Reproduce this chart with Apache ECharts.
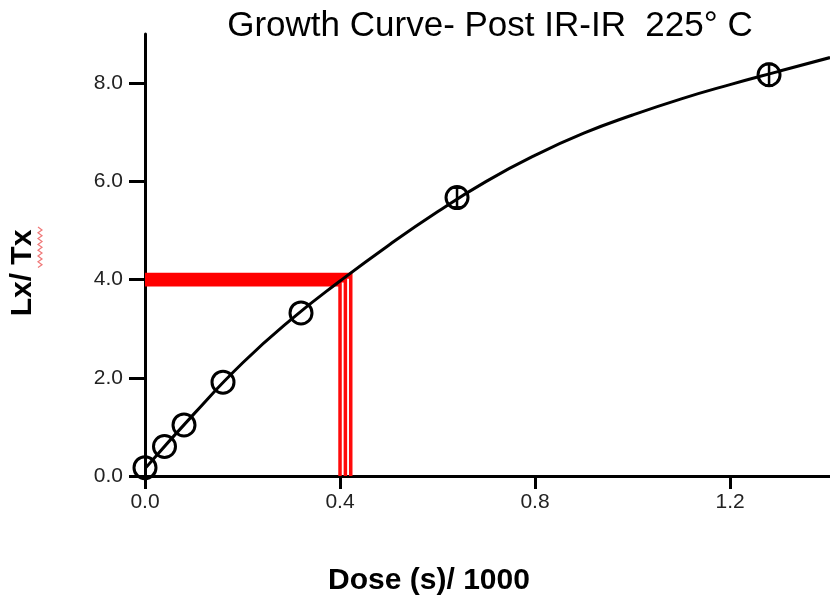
<!DOCTYPE html>
<html>
<head>
<meta charset="utf-8">
<script src="https://cdn.jsdelivr.net/npm/echarts@6/dist/echarts.min.js"></script>
<style>html,body{margin:0;padding:0;background:#fff}#c{width:830px;height:607px}</style>
</head>
<body>
<div id="c"></div>
<script>
// Measured data points (dose /1000 s, Lx/Tx)
var doses = [0, 0.04, 0.08, 0.16, 0.32, 0.64, 1.28];
var lxtx = [0.17, 0.60, 1.04, 1.91, 3.32, 5.67, 8.17];
var lxtxErr = [0, 0, 0, 0, 0, 0.20, 0.22];
// Fitted growth curve
var curveX = [0, 0.1, 0.2, 0.3, 0.4, 0.5, 0.6, 0.7, 0.8, 0.9, 1.0, 1.1, 1.2, 1.3, 1.405];
var curveY = [0.15, 1.26, 2.30, 3.19, 3.97, 4.70, 5.38, 6.00, 6.53, 6.98, 7.35, 7.68, 7.97, 8.24, 8.52];
// Equivalent-dose projection (lower, central, upper)
var deDose = [0.400, 0.411, 0.422];
var deLx = [3.92, 4.00, 4.08];
// Tick labels
var xTicks = [0, 0.4, 0.8, 1.2];
var yTicks = [0, 2, 4, 6, 8];

var chart = echarts.init(document.getElementById('c'), null, {renderer: 'canvas'});
var series = [];
for (var i = 0; i < deDose.length; i++) {
  series.push({
    type: 'line', data: [[0, deLx[i]], [deDose[i], deLx[i]]], symbol: 'none', z: 1, silent: true,
    lineStyle: {color: '#ff0000', width: 6}, clip: false
  });
  series.push({
    type: 'line', data: [[deDose[i], deLx[i] + 0.06], [deDose[i], 0]], symbol: 'none', z: 1, silent: true,
    lineStyle: {color: '#ff0a0a', width: 3.5}, clip: false
  });
}
series.push({
  type: 'line', data: curveX.map(function (x, i) { return [x, curveY[i]]; }),
  smooth: true, symbol: 'none', z: 3, lineStyle: {color: '#000', width: 3}, clip: false
});
series.push({
  type: 'custom', z: 4, clip: false,
  data: doses.map(function (d, i) { return [d, lxtx[i], lxtxErr[i]]; }),
  renderItem: function (params, api) {
    var x = api.value(0), y = api.value(1), e = api.value(2);
    if (!e) { return {type: 'group', children: []}; }
    var hi = api.coord([x, y + e]), lo = api.coord([x, y - e]);
    var cw = 4;
    return {
      type: 'group', children: [
        {type: 'line', shape: {x1: hi[0], y1: hi[1], x2: lo[0], y2: lo[1]}, style: {stroke: '#000', lineWidth: 2.5}},
        {type: 'line', shape: {x1: hi[0] - cw, y1: hi[1], x2: hi[0] + cw, y2: hi[1]}, style: {stroke: '#000', lineWidth: 2.5}},
        {type: 'line', shape: {x1: lo[0] - cw, y1: lo[1], x2: lo[0] + cw, y2: lo[1]}, style: {stroke: '#000', lineWidth: 2.5}}
      ]
    };
  }
});
series.push({
  type: 'scatter', z: 5, clip: false,
  data: doses.map(function (d, i) { return [d, lxtx[i]]; }),
  symbol: 'circle', symbolSize: 22,
  itemStyle: {color: 'rgba(255,255,255,0)', borderColor: '#000', borderWidth: 3, opacity: 1}
});

var squiggle = [];
for (var k = 0; k <= 14; k++) { squiggle.push([k % 2 === 0 ? 38 : 42, 227 + k * 2.9]); }

chart.setOption({
  animation: false,
  backgroundColor: '#fff',
  grid: {left: 145, right: 0, top: 34, bottom: 131, containLabel: false},
  xAxis: {
    type: 'value', min: 0, max: 1.405,
    axisLine: {show: true, lineStyle: {color: '#000', width: 3}},
    axisTick: {show: true, customValues: xTicks, length: 13, lineStyle: {color: '#000', width: 3}},
    axisLabel: {customValues: xTicks, margin: 16, fontSize: 21, color: '#222', fontFamily: 'Liberation Sans, Arial',
      formatter: function (v) { return v.toFixed(1); }},
    splitLine: {show: false}
  },
  yAxis: {
    type: 'value', min: 0, max: 9,
    axisLine: {show: true, onZero: false, lineStyle: {color: '#000', width: 3}},
    axisTick: {show: true, customValues: yTicks, length: 16, lineStyle: {color: '#000', width: 3}},
    axisLabel: {customValues: yTicks, margin: 22, fontSize: 21, color: '#222', fontFamily: 'Liberation Sans, Arial',
      formatter: function (v) { return v.toFixed(1); }},
    splitLine: {show: false}
  },
  graphic: [
    {type: 'text', x: 490, y: 9, style: {text: 'Growth Curve- Post IR-IR  225\u00b0 C', fontSize: 35,
      fontFamily: 'Liberation Sans, Arial', fill: '#000', textAlign: 'center', textVerticalAlign: 'top'}},
    {type: 'text', x: 429, y: 581, style: {text: 'Dose (s)/ 1000', fontSize: 30, fontWeight: 'bold',
      fontFamily: 'Liberation Sans, Arial', fill: '#000', textAlign: 'center', textVerticalAlign: 'middle'}},
    {type: 'text', x: 23, y: 273, rotation: Math.PI / 2, style: {text: 'Lx/ Tx', fontSize: 30, fontWeight: 'bold',
      fontFamily: 'Liberation Sans, Arial', fill: '#000', textAlign: 'center', textVerticalAlign: 'middle'}},
    {type: 'polyline', shape: {points: squiggle}, style: {stroke: '#f07878', lineWidth: 1.2, fill: null}}
  ],
  series: series
});
</script>
</body>
</html>
